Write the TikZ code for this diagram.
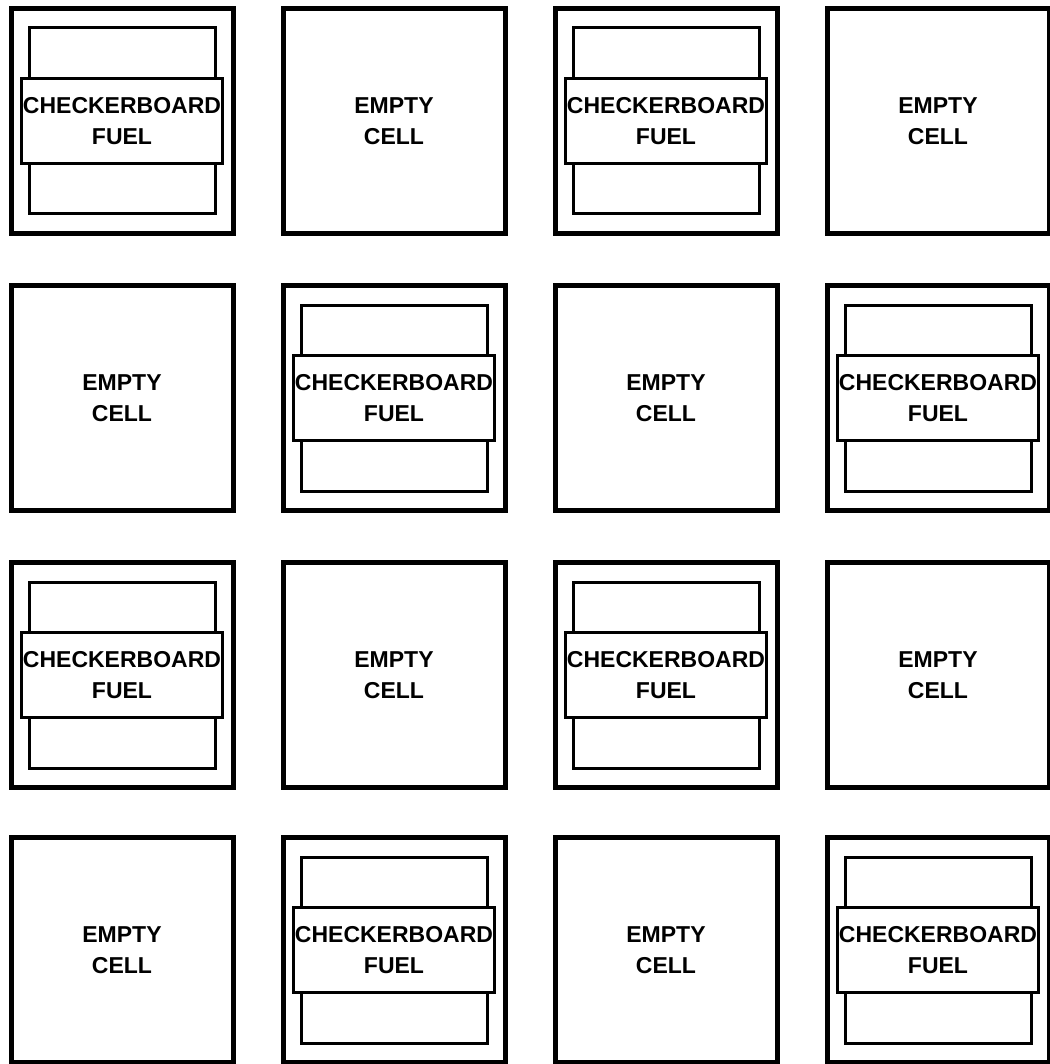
\documentclass[tikz,border=0pt]{standalone}
\usepackage{fontspec}
\setmainfont{Liberation Sans}
\usepackage{tikz}
\usetikzlibrary{positioning}

\begin{document}
\begin{tikzpicture}[
  x=1pt, y=-1pt,
  rackcell/.style={draw, line width=5pt, minimum width=222pt, minimum height=225pt, inner sep=0pt, align=center, font=\bfseries\fontsize{23}{31}\selectfont},
  fuelbox/.style={draw, line width=3pt, minimum width=186pt, minimum height=186pt, inner sep=0pt},
  fueltag/.style={draw, fill=white, line width=2.4pt, minimum width=201pt, minimum height=85pt, inner sep=0pt, align=center, font=\bfseries\fontsize{23}{31}\selectfont}
]
\useasboundingbox (0,0) rectangle (1049,1064);

% row 1
\node[rackcell] (c11) at (122,121) {};
\node[fuelbox] (a11) at (c11.center) {};
\node[fueltag] (f11) at (c11.center) {CHECKERBOARD\\FUEL};
\node[rackcell] (c12) at (394,121) {EMPTY\\CELL};
\node[rackcell] (c13) at (666,121) {};
\node[fuelbox] (a13) at (c13.center) {};
\node[fueltag] (f13) at (c13.center) {CHECKERBOARD\\FUEL};
\node[rackcell] (c14) at (938,121) {EMPTY\\CELL};

% row 2
\node[rackcell] (c21) at (122,398) {EMPTY\\CELL};
\node[rackcell] (c22) at (394,398) {};
\node[fuelbox] (a22) at (c22.center) {};
\node[fueltag] (f22) at (c22.center) {CHECKERBOARD\\FUEL};
\node[rackcell] (c23) at (666,398) {EMPTY\\CELL};
\node[rackcell] (c24) at (938,398) {};
\node[fuelbox] (a24) at (c24.center) {};
\node[fueltag] (f24) at (c24.center) {CHECKERBOARD\\FUEL};

% row 3
\node[rackcell] (c31) at (122,675) {};
\node[fuelbox] (a31) at (c31.center) {};
\node[fueltag] (f31) at (c31.center) {CHECKERBOARD\\FUEL};
\node[rackcell] (c32) at (394,675) {EMPTY\\CELL};
\node[rackcell] (c33) at (666,675) {};
\node[fuelbox] (a33) at (c33.center) {};
\node[fueltag] (f33) at (c33.center) {CHECKERBOARD\\FUEL};
\node[rackcell] (c34) at (938,675) {EMPTY\\CELL};

% row 4
\node[rackcell] (c41) at (122,950) {EMPTY\\CELL};
\node[rackcell] (c42) at (394,950) {};
\node[fuelbox] (a42) at (c42.center) {};
\node[fueltag] (f42) at (c42.center) {CHECKERBOARD\\FUEL};
\node[rackcell] (c43) at (666,950) {EMPTY\\CELL};
\node[rackcell] (c44) at (938,950) {};
\node[fuelbox] (a44) at (c44.center) {};
\node[fueltag] (f44) at (c44.center) {CHECKERBOARD\\FUEL};

\end{tikzpicture}
\end{document}
